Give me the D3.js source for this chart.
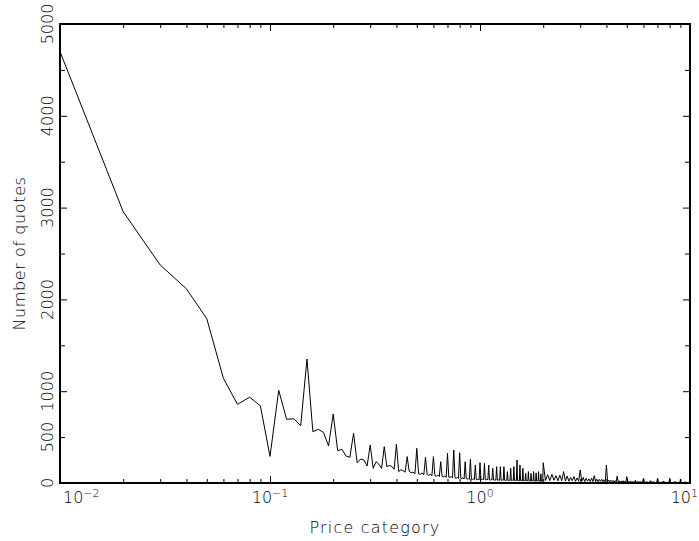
<!DOCTYPE html>
<html>
<head>
<meta charset="utf-8">
<script src="https://cdn.jsdelivr.net/npm/d3@7"></script>
<style>
  body { margin: 0; background: #fff; }
  text { font-family: "DejaVu Sans", sans-serif; font-weight: 200; fill: #000; }
</style>
</head>
<body>
<div id="chart"></div>
<script>

var width = 699;
var height = 541;
var margin = {top: 24, right: 9, bottom: 58, left: 60};

// counts per price category, 0.01 .. 2.00 in steps of 0.01
var quotesFine = [
  4700, 2955, 2375, 2115, 1790, 1140, 857, 935, 840, 290,
  1010, 694, 700, 624, 1350, 559, 585, 548, 403, 752,
  352, 367, 294, 280, 541, 221, 262, 250, 185, 414,
  160, 232, 205, 160, 396, 178, 190, 182, 150, 421,
  124, 145, 135, 118, 287, 128, 112, 118, 100, 378,
  100, 95, 110, 88, 280, 92, 84, 96, 78, 287,
  80, 74, 86, 70, 232, 72, 66, 78, 62, 323,
  64, 60, 70, 56, 360, 58, 52, 62, 50, 330,
  52, 48, 56, 44, 232, 46, 42, 50, 40, 258,
  42, 38, 46, 36, 196, 38, 34, 42, 34, 221,
  40, 34, 44, 36, 214, 38, 32, 42, 34, 196,
  36, 30, 40, 32, 160, 34, 30, 38, 30, 178,
  32, 28, 36, 30, 178, 32, 27, 35, 28, 178,
  30, 26, 34, 27, 124, 29, 25, 32, 26, 160,
  28, 25, 32, 26, 178, 28, 24, 31, 25, 250,
  27, 23, 30, 24, 196, 26, 22, 29, 23, 160,
  25, 22, 28, 23, 105, 24, 21, 27, 22, 124,
  24, 20, 26, 21, 105, 23, 20, 25, 21, 124,
  22, 19, 25, 20, 110, 22, 19, 24, 20, 124,
  21, 18, 24, 19, 100, 20, 18, 23, 19, 221
];

// counts per price category, 2.05 .. 10.00 in steps of 0.05
var quotesCoarse = [
  28, 90, 26, 94, 30, 80, 24, 85, 26, 124, 22, 76, 20, 60, 24, 70, 18, 55, 20, 142,
  18, 60, 16, 50, 20, 45, 15, 52, 16, 80, 14, 42, 13, 38, 18, 40, 12, 35, 14, 196,
  12, 32, 11, 30, 14, 28, 10, 26, 11, 76, 10, 24, 9, 22, 12, 25, 9, 20, 10, 69,
  9, 20, 8, 18, 10, 18, 8, 16, 8, 30, 7, 15, 7, 14, 9, 16, 7, 13, 8, 51,
  7, 14, 6, 12, 8, 12, 6, 11, 6, 25, 6, 11, 6, 10, 7, 12, 5, 10, 6, 51,
  6, 10, 5, 9, 6, 9, 5, 9, 5, 22, 5, 8, 5, 8, 6, 9, 4, 8, 5, 51,
  5, 8, 4, 8, 5, 8, 4, 7, 4, 18, 4, 7, 4, 6, 5, 7, 4, 6, 4, 40,
  4, 6, 4, 6, 4, 6, 3, 5, 3, 15, 3, 5, 3, 5, 4, 5, 3, 5, 3, 20
];

var xDomain = [0.01, 10];
var yDomain = [0, 5000];
var xMajor = [0.01, 0.1, 1, 10];
var xMajorExp = ["\u22122", "\u22121", "0", "1"];
var yLabelled = [0, 500, 1000, 2000, 3000, 4000, 5000];

var data = [];
quotesFine.forEach(function(v, i) {
  data.push({price: (i + 1) / 100, n: v});
});
quotesCoarse.forEach(function(v, i) {
  data.push({price: 2 + (i + 1) * 5 / 100, n: v});
});

var svg = d3.select("#chart")
  .append("svg")
    .attr("width", width)
    .attr("height", height);

var x = d3.scaleLog()
  .domain(xDomain)
  .range([margin.left, width - margin.right]);

var y = d3.scaleLinear()
  .domain(yDomain)
  .range([height - margin.bottom, margin.top]);

var x0 = x.range()[0], x1 = x.range()[1];
var y0 = y.range()[0], y1 = y.range()[1];

svg.append("clipPath")
    .attr("id", "clip")
  .append("rect")
    .attr("x", x0)
    .attr("y", y1)
    .attr("width", x1 - x0)
    .attr("height", y0 - y1);

var line = d3.line()
  .x(function(d) { return x(d.price); })
  .y(function(d) { return y(d.n); });

svg.append("path")
  .datum(data)
  .attr("clip-path", "url(#clip)")
  .attr("fill", "none")
  .attr("stroke", "#000")
  .attr("stroke-width", 1)
  .attr("stroke-linejoin", "miter")
  .attr("d", line);

// ticks, drawn inward on all four sides
var xMinor = x.ticks().filter(function(t) { return xMajor.indexOf(t) < 0; });
var yMajor = d3.range(0, 5001, 1000);
var yMinor = d3.range(500, 5000, 1000);

function tickAxis(axis, g) {
  g.call(axis);
  g.select(".domain").remove();
  g.selectAll(".tick line").attr("stroke", "#000").attr("stroke-width", 1);
  g.selectAll(".tick text").remove();
}

[[xMinor, 4], [xMajor, 7]].forEach(function(p) {
  svg.append("g").attr("transform", "translate(0," + y0 + ")")
    .call(function(g) { tickAxis(d3.axisBottom(x).tickValues(p[0]).tickSize(-p[1]), g); });
  svg.append("g").attr("transform", "translate(0," + y1 + ")")
    .call(function(g) { tickAxis(d3.axisTop(x).tickValues(p[0]).tickSize(-p[1]), g); });
});

[[yMinor, 5], [yMajor, 7]].forEach(function(p) {
  svg.append("g").attr("transform", "translate(" + x0 + ",0)")
    .call(function(g) { tickAxis(d3.axisLeft(y).tickValues(p[0]).tickSize(-p[1]), g); });
  svg.append("g").attr("transform", "translate(" + x1 + ",0)")
    .call(function(g) { tickAxis(d3.axisRight(y).tickValues(p[0]).tickSize(-p[1]), g); });
});

// frame
svg.append("rect")
  .attr("x", x0)
  .attr("y", y1)
  .attr("width", x1 - x0)
  .attr("height", y0 - y1)
  .attr("fill", "none")
  .attr("stroke", "#000")
  .attr("stroke-width", 2);

// x tick labels 10^n; end labels kept inside the page
var last = xMajor.length - 1;
xMajor.forEach(function(v, i) {
  var t = svg.append("text")
    .attr("x", i === 0 ? x(v) + 3 : (i === last ? width - 1 : x(v)))
    .attr("y", y0 + 20)
    .attr("text-anchor", i === 0 ? "start" : (i === last ? "end" : "middle"))
    .style("font-size", "16px");
  t.append("tspan").text("10");
  t.append("tspan")
    .attr("dy", -6)
    .style("font-size", "11px")
    .text(xMajorExp[i]);
});

// y tick labels, rotated
svg.selectAll(".ylab")
  .data(yLabelled)
  .enter()
  .append("text")
    .attr("class", "ylab")
    .attr("transform", function(d) { return "translate(" + (x0 - 7) + "," + y(d) + ") rotate(-90)"; })
    .attr("text-anchor", "middle")
    .style("font-size", "16px")
    .text(function(d) { return d; });

svg.append("text")
  .attr("x", (x0 + x1) / 2)
  .attr("y", height - 8)
  .attr("text-anchor", "middle")
  .style("font-size", "16px")
  .style("letter-spacing", "1.2px")
  .text("Price category");

svg.append("text")
  .attr("transform", "translate(25," + ((y0 + y1) / 2) + ") rotate(-90)")
  .attr("text-anchor", "middle")
  .style("font-size", "16px")
  .style("letter-spacing", "0.6px")
  .text("Number of quotes");

</script>
</body>
</html>
